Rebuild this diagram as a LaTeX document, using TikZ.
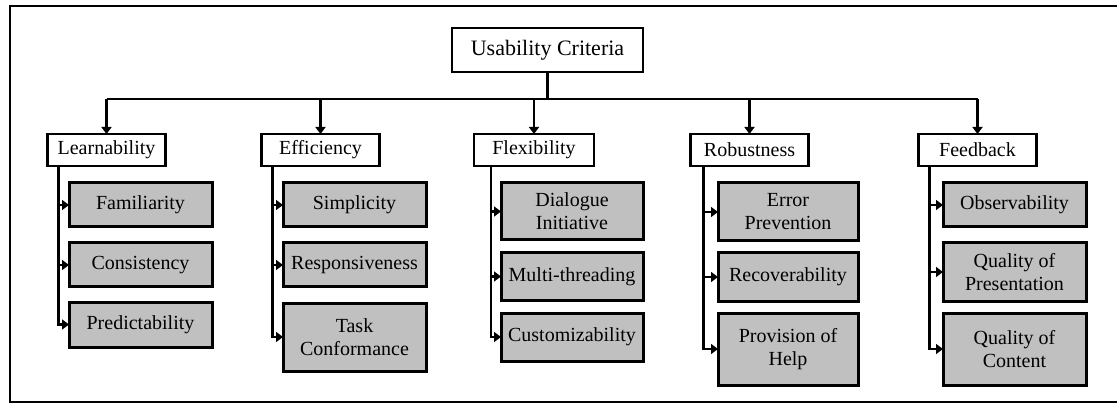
\documentclass[tikz,border=0pt]{standalone}
\usepackage{fontspec}
\setmainfont{Liberation Serif}
\usetikzlibrary{arrows.meta}
\definecolor{boxgray}{RGB}{192,192,192}
\begin{document}
\begin{tikzpicture}[x=1pt,y=-1pt,
  every node/.style={inner sep=0pt,outer sep=0pt,align=center},
  rootbox/.style={draw,line width=2.6pt,fill=white,font=\fontsize{22}{26}\selectfont},
  groupbox/.style={draw,line width=2.6pt,fill=white,minimum width=118pt,minimum height=32pt,font=\fontsize{20}{23}\selectfont},
  leafbox/.style={draw,line width=3pt,fill=boxgray,font=\fontsize{20}{23}\selectfont},
  conn/.style={line width=2.3pt},
  arr/.style={conn,-{Triangle[length=7pt,width=10pt]}}]
\useasboundingbox (0,0) rectangle (1117,406);
% outer frame (right side runs off the page)
\draw[line width=2pt] (1130,6.5) -- (9.5,6.5) -- (9.5,402) -- (1130,402);

% root
\node[rootbox,minimum width=191pt,minimum height=44pt] (root) at (547.5,50) {Usability Criteria};
\coordinate (bus) at (547.5,99);

% groups
\node[groupbox] (L) at (106.5,150) {Learnability};
\node[groupbox] (E) at (320.5,150) {Efficiency};
\node[groupbox,minimum width=120pt] (F) at (534,150) {Flexibility};
\node[groupbox] (R) at (749.5,150) {Robustness};
\node[groupbox] (B) at (977.5,150) {Feedback};

% leaves: Learnability
\node[leafbox,minimum width=143pt,minimum height=44pt] (L1) at (140.5,205) {Familiarity};
\node[leafbox,minimum width=143pt,minimum height=44pt] (L2) at (140.5,265) {Consistency};
\node[leafbox,minimum width=143pt,minimum height=45pt] (L3) at (140.5,324.5) {Predictability};
% leaves: Efficiency
\node[leafbox,minimum width=143pt,minimum height=44pt] (E1) at (354.5,205) {Simplicity};
\node[leafbox,minimum width=143pt,minimum height=44pt] (E2) at (354.5,265) {Responsiveness};
\node[leafbox,minimum width=143pt,minimum height=68pt] (E3) at (354.5,337) {Task\\Conformance};
% leaves: Flexibility
\node[leafbox,minimum width=142pt,minimum height=57pt] (F1) at (572,211.5) {Dialogue\\Initiative};
\node[leafbox,minimum width=142pt,minimum height=47pt] (F2) at (572,276.5) {Multi-threading};
\node[leafbox,minimum width=142pt,minimum height=48pt] (F3) at (572,337) {Customizability};
% leaves: Robustness
\node[leafbox,minimum width=140pt,minimum height=58pt] (R1) at (788,212) {Error\\Prevention};
\node[leafbox,minimum width=140pt,minimum height=48pt] (R2) at (788,277) {Recoverability};
\node[leafbox,minimum width=140pt,minimum height=72pt] (R3) at (788,349) {Provision of\\Help};
% leaves: Feedback
\node[leafbox,minimum width=143pt,minimum height=44pt] (B1) at (1014.5,205) {Observability};
\node[leafbox,minimum width=143pt,minimum height=58pt] (B2) at (1014.5,272) {Quality of\\Presentation};
\node[leafbox,minimum width=143pt,minimum height=72pt] (B3) at (1014.5,349) {Quality of\\Content};

% root to groups
\draw[conn] (root.south) -- (bus);
\draw[conn] (L.north |- bus) -- (B.north |- bus);
\foreach \g in {L,E,F,R,B}
  \draw[arr] (\g.north |- bus) -- (\g.north);

% group trunks to leaves
\foreach \g/\dx in {L/11,E/11,F/17,R/13,B/11}
  \foreach \i in {1,2,3}
    \draw[arr] ([xshift=\dx pt]\g.south west) |- (\g\i.west);
\end{tikzpicture}
\end{document}
